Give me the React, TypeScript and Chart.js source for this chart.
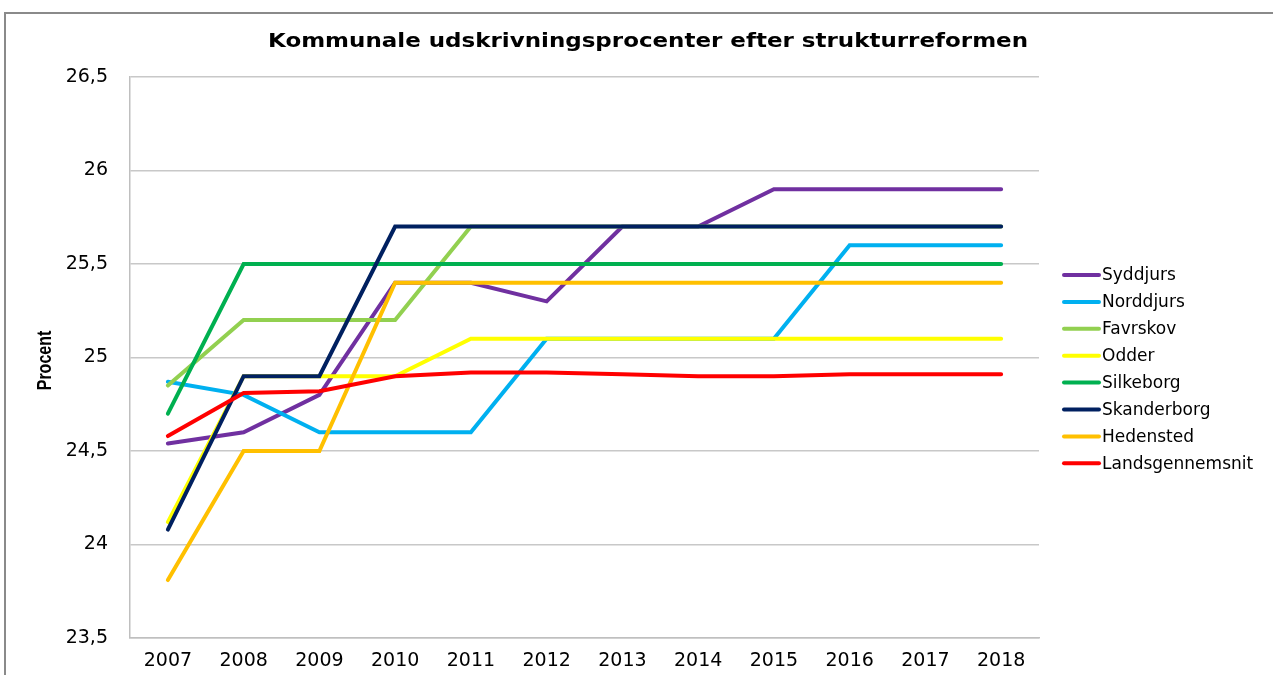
import React, { useEffect, useRef } from "react";
import { Chart, registerables } from "chart.js";

Chart.register(...registerables);

const chartTitle = "Kommunale udskrivningsprocenter efter strukturreformen";
const yAxisTitle = "Procent";

const years = ["2007", "2008", "2009", "2010", "2011", "2012", "2013", "2014", "2015", "2016", "2017", "2018"];

const yTickValues = [23.5, 24, 24.5, 25, 25.5, 26, 26.5];
const yTickLabels = ["23,5", "24", "24,5", "25", "25,5", "26", "26,5"];

const syddjurs = [24.54, 24.6, 24.8, 25.4, 25.4, 25.3, 25.7, 25.7, 25.9, 25.9, 25.9, 25.9];
const norddjurs = [24.87, 24.8, 24.6, 24.6, 24.6, 25.1, 25.1, 25.1, 25.1, 25.6, 25.6, 25.6];
const favrskov = [24.85, 25.2, 25.2, 25.2, 25.7, 25.7, 25.7, 25.7, 25.7, 25.7, 25.7, 25.7];
const odder = [24.12, 24.9, 24.9, 24.9, 25.1, 25.1, 25.1, 25.1, 25.1, 25.1, 25.1, 25.1];
const silkeborg = [24.7, 25.5, 25.5, 25.5, 25.5, 25.5, 25.5, 25.5, 25.5, 25.5, 25.5, 25.5];
const skanderborg = [24.08, 24.9, 24.9, 25.7, 25.7, 25.7, 25.7, 25.7, 25.7, 25.7, 25.7, 25.7];
const hedensted = [23.81, 24.5, 24.5, 25.4, 25.4, 25.4, 25.4, 25.4, 25.4, 25.4, 25.4, 25.4];
const landsgennemsnit = [24.58, 24.81, 24.82, 24.9, 24.92, 24.92, 24.91, 24.9, 24.9, 24.91, 24.91, 24.91];

const seriesNames = ["Syddjurs", "Norddjurs", "Favrskov", "Odder", "Silkeborg", "Skanderborg", "Hedensted", "Landsgennemsnit"];
const seriesValues = [syddjurs, norddjurs, favrskov, odder, silkeborg, skanderborg, hedensted, landsgennemsnit];
const seriesColors = ["#7030A0", "#00B0F0", "#92D050", "#FFFF00", "#00B050", "#002060", "#FFC000", "#FF0000"];

const decorPlugin = {
  id: "decor",
  beforeDraw(chart: any) {
    const ctx = chart.ctx;
    ctx.save();
    ctx.fillStyle = "#ffffff";
    ctx.fillRect(0, 0, chart.width, chart.height);
    ctx.strokeStyle = "#8a8a8a";
    ctx.lineWidth = 2;
    ctx.beginPath();
    ctx.moveTo(5, chart.height + 20);
    ctx.lineTo(5, 13);
    ctx.lineTo(chart.width + 40, 13);
    ctx.stroke();
    ctx.restore();
  },
  afterDraw(chart: any) {
    const ctx = chart.ctx;
    const area = chart.chartArea;
    ctx.save();
    // title
    ctx.font = "bold 20px 'DejaVu Sans'";
    ctx.fillStyle = "#000000";
    ctx.textAlign = "center";
    ctx.textBaseline = "middle";
    const w = ctx.measureText(chartTitle).width;
    const targetW = 760;
    ctx.save();
    ctx.translate(648, 42);
    ctx.scale(targetW / w, 1);
    ctx.fillText(chartTitle, 0, 0);
    ctx.restore();

    // y axis title
    ctx.save();
    ctx.font = "bold 16px 'Liberation Sans', Arial, sans-serif";
    ctx.translate(45, (area.top + area.bottom) / 2 + 3);
    ctx.rotate(-Math.PI / 2);
    ctx.textAlign = "center";
    ctx.textBaseline = "middle";
    ctx.fillStyle = "#000000";
    ctx.scale(1, 1.25);
    ctx.fillText(yAxisTitle, 0, 0);
    ctx.restore();

    // legend
    ctx.font = "17px 'DejaVu Sans'";
    ctx.textAlign = "left";
    ctx.textBaseline = "middle";
    const startY = 275;
    const step = 26.9;
    seriesNames.forEach((name, i) => {
      const y = startY + i * step;
      ctx.strokeStyle = seriesColors[i];
      ctx.lineWidth = 4;
      ctx.lineCap = "round";
      ctx.beginPath();
      ctx.moveTo(1064, y);
      ctx.lineTo(1099, y);
      ctx.stroke();
      ctx.fillStyle = "#000000";
      ctx.fillText(name, 1102, y + 1);
    });
    ctx.restore();
  },
};

export default function App() {
  const canvasRef = useRef<HTMLCanvasElement | null>(null);

  useEffect(() => {
    const canvas = canvasRef.current;
    if (!canvas) return;
    const chart = new Chart(canvas, {
      type: "line",
      data: {
        labels: years,
        datasets: seriesNames.map((name, i) => ({
          label: name,
          data: seriesValues[i],
          borderColor: seriesColors[i],
          backgroundColor: seriesColors[i],
          borderWidth: 4,
          pointRadius: 0,
          pointHoverRadius: 0,
          tension: 0,
          borderCapStyle: "round",
          fill: false,
          order: seriesNames.length - i,
        })),
      },
      options: {
        responsive: false,
        animation: false,
        devicePixelRatio: 1,
        layout: { padding: { top: 77, right: 234, bottom: 0, left: 0 } },
        plugins: {
          legend: { display: false },
          title: { display: false },
          tooltip: { enabled: false },
        },
        scales: {
          x: {
            type: "category",
            offset: true,
            grid: { display: false, drawTicks: false },
            border: { display: true, color: "#bfbfbf", width: 1.5 },
            ticks: {
              color: "#000000",
              font: { family: "'DejaVu Sans'", size: 19 },
              padding: 12,
              maxRotation: 0,
              autoSkip: false,
            },
            afterFit: (scale: any) => {
              scale.height = 37;
            },
          },
          y: {
            min: 23.5,
            max: 26.5,
            grid: { color: "#c8c8c8", lineWidth: 1.5, drawTicks: false },
            border: { display: true, color: "#bfbfbf", width: 1.5 },
            ticks: {
              color: "#000000",
              font: { family: "'DejaVu Sans'", size: 19 },
              padding: 22,
              callback: (_v: any, idx: number) => yTickLabels[idx],
            },
            afterBuildTicks: (scale: any) => {
              scale.ticks = yTickValues.map((v) => ({ value: v }));
            },
            afterFit: (scale: any) => {
              scale.width = 130;
            },
          },
        },
      },
      plugins: [decorPlugin],
    });
    return () => chart.destroy();
  }, []);

  return (
    <div style={{ position: "fixed", left: 0, top: 0, width: 1273, height: 675, background: "#fff" }}>
      <canvas ref={canvasRef} width={1273} height={675} style={{ display: "block" }} />
    </div>
  );
}
